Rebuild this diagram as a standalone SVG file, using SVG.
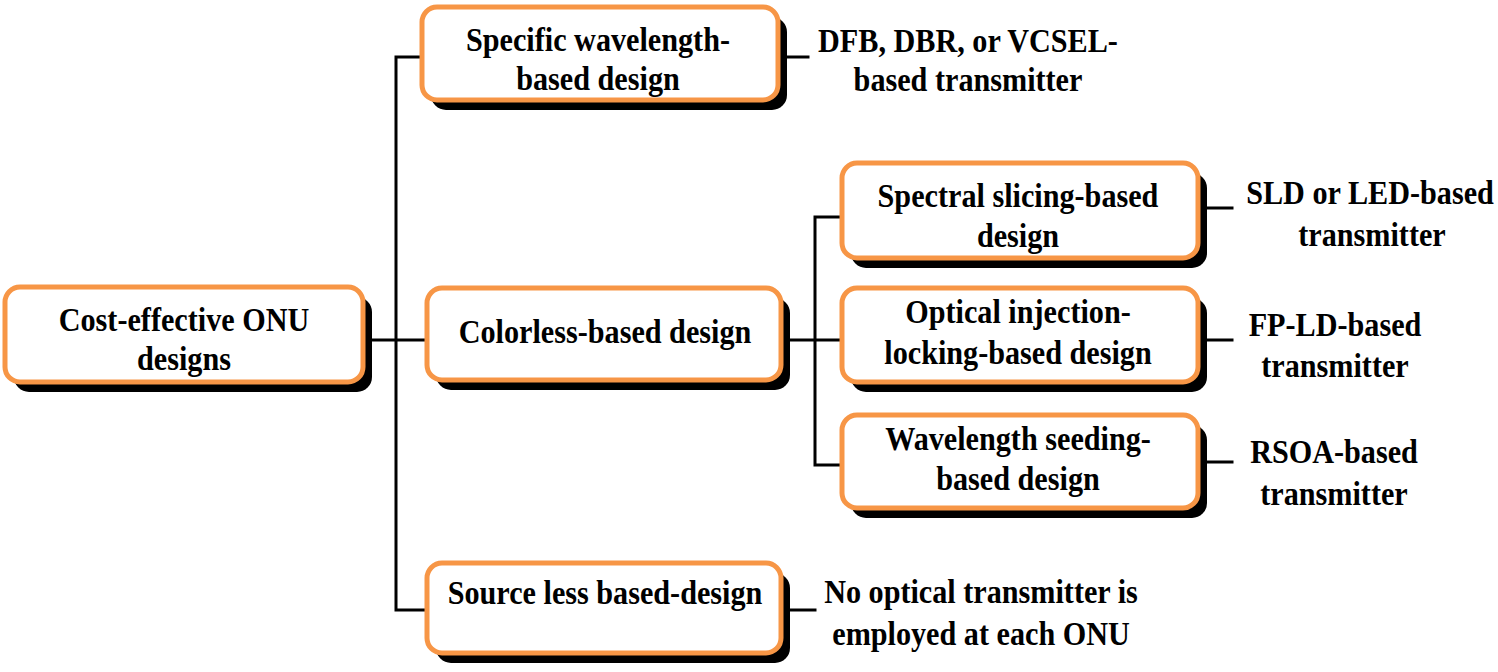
<svg xmlns="http://www.w3.org/2000/svg" width="1498" height="672" viewBox="0 0 1498 672">
<style>
.box{fill:#ffffff;stroke:#F79646;stroke-width:5}
.sh{fill:#000000}
.ln{stroke:#000000;stroke-width:3;fill:none;stroke-linecap:square}
text{font-family:"Liberation Serif","Times New Roman",serif;font-weight:bold;font-size:33px;fill:#000000;text-anchor:middle}
</style>
<rect width="1498" height="672" fill="#ffffff"/>
<g id="connectors">
<path class="ln" d="M372 340 H427 M396 57 V610 M396 57 H422 M396 610 H427"/>
<path class="ln" d="M788 57 H808"/>
<path class="ln" d="M790 340 H842 M815 217 V465 M815 217 H842 M815 465 H842"/>
<path class="ln" d="M1207 208 H1232 M1207 340 H1232 M1207 462 H1232"/>
<path class="ln" d="M790 610 H815"/>
</g>
<g id="root">
<rect class="sh" x="14" y="297" width="358" height="95" rx="15"/>
<rect class="box" x="5" y="287" width="358" height="95" rx="15"/>
<text transform="translate(184,331) scale(0.915,1)">Cost-effective ONU</text>
<text transform="translate(184,370) scale(0.915,1)">designs</text>
</g>
<g id="specific">
<rect class="sh" x="431" y="17" width="356" height="93" rx="15"/>
<rect class="box" x="422" y="7" width="356" height="93" rx="15"/>
<text transform="translate(598,51) scale(0.915,1)">Specific wavelength-</text>
<text transform="translate(598,90) scale(0.915,1)">based design</text>
</g>
<g id="dfb">
<text transform="translate(968,52) scale(0.915,1)">DFB, DBR, or VCSEL-</text>
<text transform="translate(968,91) scale(0.915,1)">based transmitter</text>
</g>
<g id="colorless">
<rect class="sh" x="436" y="298" width="354" height="92" rx="15"/>
<rect class="box" x="427" y="288" width="354" height="92" rx="15"/>
<text transform="translate(605,343) scale(0.915,1)">Colorless-based design</text>
</g>
<g id="spectral">
<rect class="sh" x="851" y="173" width="356" height="95" rx="15"/>
<rect class="box" x="842" y="163" width="356" height="95" rx="15"/>
<text transform="translate(1018,207) scale(0.915,1)">Spectral slicing-based</text>
<text transform="translate(1018,247) scale(0.915,1)">design</text>
</g>
<g id="sld">
<text transform="translate(1370,204) scale(0.915,1)">SLD or LED-based</text>
<text transform="translate(1372,246) scale(0.915,1)">transmitter</text>
</g>
<g id="optical">
<rect class="sh" x="851" y="298" width="356" height="94" rx="15"/>
<rect class="box" x="842" y="288" width="356" height="94" rx="15"/>
<text transform="translate(1018,323) scale(0.915,1)">Optical injection-</text>
<text transform="translate(1018,364) scale(0.915,1)">locking-based design</text>
</g>
<g id="fpld">
<text transform="translate(1335,336) scale(0.915,1)">FP-LD-based</text>
<text transform="translate(1335,377) scale(0.915,1)">transmitter</text>
</g>
<g id="wavelength">
<rect class="sh" x="851" y="425" width="356" height="93" rx="15"/>
<rect class="box" x="842" y="415" width="356" height="93" rx="15"/>
<text transform="translate(1018,450) scale(0.915,1)">Wavelength seeding-</text>
<text transform="translate(1018,490) scale(0.915,1)">based design</text>
</g>
<g id="rsoa">
<text transform="translate(1334,463) scale(0.915,1)">RSOA-based</text>
<text transform="translate(1334,505) scale(0.915,1)">transmitter</text>
</g>
<g id="sourceless">
<rect class="sh" x="436" y="573" width="354" height="90" rx="15"/>
<rect class="box" x="427" y="563" width="354" height="90" rx="15"/>
<text transform="translate(605,604) scale(0.915,1)">Source less based-design</text>
</g>
<g id="noopt">
<text transform="translate(981,603) scale(0.915,1)">No optical transmitter is</text>
<text transform="translate(981,645) scale(0.915,1)">employed at each ONU</text>
</g>
</svg>
